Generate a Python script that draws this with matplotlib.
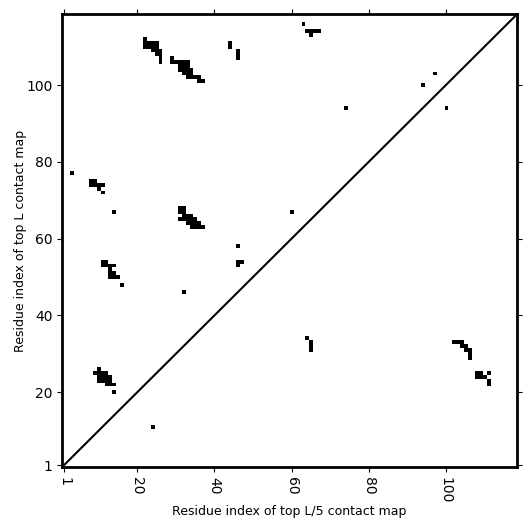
import numpy as np
import matplotlib
matplotlib.use("Agg")
import matplotlib.pyplot as plt

L = 118  # sequence length

# contacts above the diagonal (top L map): (residue i on x, residue j on y)
top_L_x = [22, 22, 23, 24, 25, 22, 23, 24, 25, 24, 25, 26, 25, 26, 26, 26,
           29, 29, 30, 31, 32, 33, 31, 32, 33, 31, 32, 33, 34, 32, 33, 34, 33, 34, 35, 36, 36, 37,
           44, 44, 46, 46, 46,
           63, 64, 65, 66, 67, 65,
           74, 97, 94, 100,
           3, 8, 9, 8, 9, 10, 11, 10, 11,
           14, 60,
           31, 32, 31, 32, 32, 33, 34, 31, 32, 33, 34, 35, 33, 34, 35, 36, 34, 35, 36, 37,
           11, 12, 11, 12, 13, 14, 13, 13, 14, 13, 14, 15, 16,
           32, 46, 46, 47, 46,
           10, 9, 10, 11, 12, 10, 11, 12, 13, 10, 11, 12, 13, 12, 13, 14, 14]
top_L_y = [112, 111, 111, 111, 111, 110, 110, 110, 110, 109, 109, 109, 108, 108, 107, 106,
           107, 106, 106, 106, 106, 106, 105, 105, 105, 104, 104, 104, 104, 103, 103, 103, 102, 102, 102, 102, 101, 101,
           111, 110, 109, 108, 107,
           116, 114, 114, 114, 114, 113,
           94, 103, 100, 94,
           77, 75, 75, 74, 74, 74, 74, 73, 72,
           67, 67,
           68, 68, 67, 67, 66, 66, 66, 65, 65, 65, 65, 65, 64, 64, 64, 64, 63, 63, 63, 63,
           54, 54, 53, 53, 53, 53, 52, 51, 51, 50, 50, 50, 48,
           46, 58, 54, 54, 53,
           26, 25, 25, 25, 25, 24, 24, 24, 24, 23, 23, 23, 23, 22, 22, 22, 20]

# contacts below the diagonal (top L/5 map)
top_L5_x = [24, 64, 65, 65, 65,
            102, 103, 104, 104, 105, 105, 106, 106, 106,
            108, 109, 111, 108, 109, 110, 111, 111]
top_L5_y = [11, 34, 33, 32, 31,
            33, 33, 33, 32, 32, 31, 31, 30, 29,
            25, 25, 25, 24, 24, 24, 23, 22]

ticks = [1, 20, 40, 60, 80, 100]

cmap = np.zeros((L, L))
for x, y in zip(top_L_x + top_L5_x, top_L_y + top_L5_y):
    cmap[y - 1, x - 1] = 1

fig = plt.figure(figsize=(5.31, 5.31), dpi=100)
ax = fig.add_axes([0.117, 0.1205, 0.857, 0.853])
ax.imshow(cmap, cmap='Greys', origin='lower', interpolation='nearest',
          extent=(0.5, L + 0.5, 0.5, L + 0.5), vmin=0, vmax=1, aspect='auto')
ax.plot([0.5, L + 0.5], [0.5, L + 0.5], color='black', lw=1.5)
ax.set_xlim(0.5, L + 0.5)
ax.set_ylim(0.5, L + 0.5)
ax.set_xticks(ticks)
ax.set_yticks(ticks)
ax.tick_params(top=True, right=True)
plt.setp(ax.get_xticklabels(), rotation=270)
for s in ax.spines.values():
    s.set_linewidth(2)
ax.set_xlabel('Residue index of top L/5 contact map', fontsize=9, labelpad=1)
ax.set_ylabel('Residue index of top L contact map', fontsize=9, labelpad=-1)

fig.savefig('out.png', dpi=100)
